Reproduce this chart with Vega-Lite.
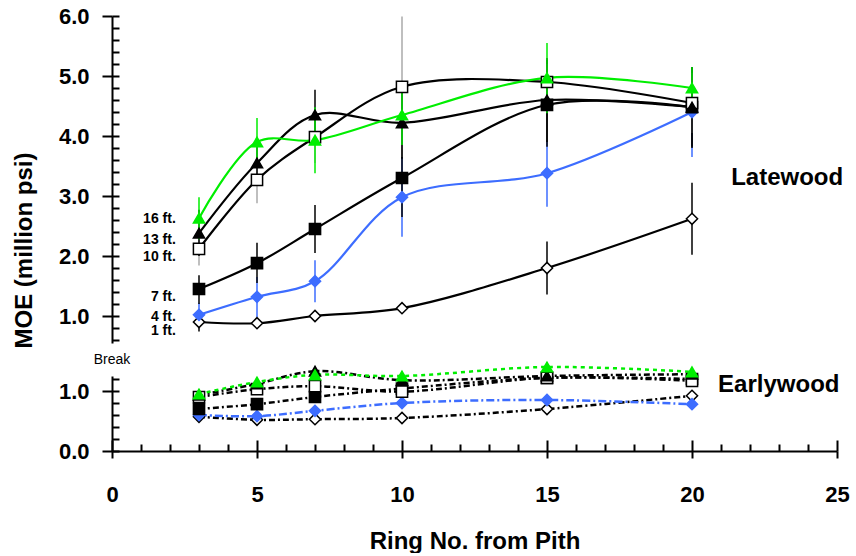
{
  "$schema": "https://vega.github.io/schema/vega-lite/v6.json",
  "padding": {"left": 12, "top": 5, "right": 2, "bottom": 0},
  "config": {
    "view": {"stroke": null},
    "font": "Liberation Sans",
    "axis": {
      "domainColor": "black", "domainWidth": 2,
      "tickColor": "black", "tickWidth": 2, "tickCount": 100,
      "labelColor": "black", "labelFontSize": 22, "labelFontWeight": "bold", "labelFont": "Liberation Sans",
      "labelOverlap": false, "labelFlush": false, "labelBound": false,
      "titleColor": "black", "titleFontSize": 24, "titleFontWeight": "bold", "titleFont": "Liberation Sans",
      "grid": true, "gridColor": "black", "gridWidth": 2, "gridOpacity": 1
    }
  },
  "datasets": {
    "late": [
      {"series": "1 ft.", "x": 3, "y": 0.90, "lo": 0.74, "hi": 1.06},
      {"series": "1 ft.", "x": 5, "y": 0.88, "lo": 0.84, "hi": 0.92},
      {"series": "1 ft.", "x": 7, "y": 1.00, "lo": 0.95, "hi": 1.05},
      {"series": "1 ft.", "x": 10, "y": 1.13, "lo": 1.05, "hi": 1.21},
      {"series": "1 ft.", "x": 15, "y": 1.80, "lo": 1.36, "hi": 2.24},
      {"series": "1 ft.", "x": 20, "y": 2.62, "lo": 2.02, "hi": 3.22},
      {"series": "4 ft.", "x": 3, "y": 1.02, "lo": 0.82, "hi": 1.22},
      {"series": "4 ft.", "x": 5, "y": 1.32, "lo": 0.98, "hi": 1.65},
      {"series": "4 ft.", "x": 7, "y": 1.58, "lo": 1.23, "hi": 1.93},
      {"series": "4 ft.", "x": 10, "y": 2.98, "lo": 2.32, "hi": 3.65},
      {"series": "4 ft.", "x": 15, "y": 3.38, "lo": 2.82, "hi": 3.93},
      {"series": "4 ft.", "x": 20, "y": 4.40, "lo": 3.65, "hi": 5.15},
      {"series": "7 ft.", "x": 3, "y": 1.45, "lo": 1.20, "hi": 1.68},
      {"series": "7 ft.", "x": 5, "y": 1.88, "lo": 1.55, "hi": 2.22},
      {"series": "7 ft.", "x": 7, "y": 2.45, "lo": 2.05, "hi": 2.85},
      {"series": "7 ft.", "x": 10, "y": 3.30, "lo": 2.65, "hi": 3.93},
      {"series": "7 ft.", "x": 15, "y": 4.52, "lo": 3.82, "hi": 5.27},
      {"series": "7 ft.", "x": 20, "y": 4.48, "lo": 3.82, "hi": 5.15},
      {"series": "10 ft.", "x": 3, "y": 2.12, "lo": 1.84, "hi": 2.40},
      {"series": "10 ft.", "x": 5, "y": 3.27, "lo": 2.88, "hi": 3.66},
      {"series": "10 ft.", "x": 7, "y": 3.98, "lo": 3.55, "hi": 4.41},
      {"series": "10 ft.", "x": 10, "y": 4.82, "lo": 3.65, "hi": 5.99},
      {"series": "10 ft.", "x": 15, "y": 4.90, "lo": 4.60, "hi": 5.20},
      {"series": "10 ft.", "x": 20, "y": 4.55, "lo": 4.05, "hi": 5.05},
      {"series": "13 ft.", "x": 3, "y": 2.38, "lo": 2.00, "hi": 2.77},
      {"series": "13 ft.", "x": 5, "y": 3.55, "lo": 3.25, "hi": 3.85},
      {"series": "13 ft.", "x": 7, "y": 4.35, "lo": 3.93, "hi": 4.77},
      {"series": "13 ft.", "x": 10, "y": 4.22, "lo": 3.62, "hi": 4.82},
      {"series": "13 ft.", "x": 15, "y": 4.60, "lo": 3.90, "hi": 5.30},
      {"series": "13 ft.", "x": 20, "y": 4.48, "lo": 3.80, "hi": 5.15},
      {"series": "16 ft.", "x": 3, "y": 2.63, "lo": 2.28, "hi": 2.98},
      {"series": "16 ft.", "x": 5, "y": 3.90, "lo": 3.52, "hi": 4.30},
      {"series": "16 ft.", "x": 7, "y": 3.93, "lo": 3.38, "hi": 4.48},
      {"series": "16 ft.", "x": 10, "y": 4.35, "lo": 3.85, "hi": 4.85},
      {"series": "16 ft.", "x": 15, "y": 4.97, "lo": 4.38, "hi": 5.55},
      {"series": "16 ft.", "x": 20, "y": 4.80, "lo": 4.45, "hi": 5.15}
    ],
    "early": [
      {"series": "1 ft.", "x": 3, "y": 0.57},
      {"series": "1 ft.", "x": 5, "y": 0.52},
      {"series": "1 ft.", "x": 7, "y": 0.53},
      {"series": "1 ft.", "x": 10, "y": 0.55},
      {"series": "1 ft.", "x": 15, "y": 0.70},
      {"series": "1 ft.", "x": 20, "y": 0.92},
      {"series": "4 ft.", "x": 3, "y": 0.60},
      {"series": "4 ft.", "x": 5, "y": 0.58},
      {"series": "4 ft.", "x": 7, "y": 0.67},
      {"series": "4 ft.", "x": 10, "y": 0.80},
      {"series": "4 ft.", "x": 15, "y": 0.85},
      {"series": "4 ft.", "x": 20, "y": 0.78},
      {"series": "7 ft.", "x": 3, "y": 0.70},
      {"series": "7 ft.", "x": 5, "y": 0.78},
      {"series": "7 ft.", "x": 7, "y": 0.90},
      {"series": "7 ft.", "x": 10, "y": 1.04},
      {"series": "7 ft.", "x": 15, "y": 1.22},
      {"series": "7 ft.", "x": 20, "y": 1.20},
      {"series": "10 ft.", "x": 3, "y": 0.90},
      {"series": "10 ft.", "x": 5, "y": 1.03},
      {"series": "10 ft.", "x": 7, "y": 1.08},
      {"series": "10 ft.", "x": 10, "y": 0.99},
      {"series": "10 ft.", "x": 15, "y": 1.22},
      {"series": "10 ft.", "x": 20, "y": 1.17},
      {"series": "13 ft.", "x": 3, "y": 0.93},
      {"series": "13 ft.", "x": 5, "y": 1.12},
      {"series": "13 ft.", "x": 7, "y": 1.33},
      {"series": "13 ft.", "x": 10, "y": 1.18},
      {"series": "13 ft.", "x": 15, "y": 1.25},
      {"series": "13 ft.", "x": 20, "y": 1.28},
      {"series": "16 ft.", "x": 3, "y": 0.95},
      {"series": "16 ft.", "x": 5, "y": 1.15},
      {"series": "16 ft.", "x": 7, "y": 1.27},
      {"series": "16 ft.", "x": 10, "y": 1.25},
      {"series": "16 ft.", "x": 15, "y": 1.40},
      {"series": "16 ft.", "x": 20, "y": 1.32}
    ]
  },
  "spacing": 33,
  "bounds": "flush",
  "vconcat": [
    {
      "width": 725,
      "height": 327,
      "layer": [
        {
          "data": {"name": "late"},
          "mark": {"type": "line", "interpolate": "catmull-rom", "strokeWidth": 2.2},
          "encoding": {
            "x": {"field": "x", "type": "quantitative", "scale": {"domain": [0, 25], "nice": false}, "axis": null},
            "y": {"field": "y", "type": "quantitative", "scale": {"domain": [0.55, 6], "nice": false, "zero": false},
              "axis": {
                "title": "MOE (million psi)",
                "values": [0.6, 0.8, 1, 1.2, 1.4, 1.6, 1.8, 2, 2.2, 2.4, 2.6, 2.8, 3, 3.2, 3.4, 3.6, 3.8, 4, 4.2, 4.4, 4.6, 4.8, 5, 5.2, 5.4, 5.6, 5.8, 6],
                "tickCount": 100,
                "labelExpr": "datum.value % 1 === 0 ? format(datum.value, '.1f') : ''",
                "tickOpacity": {"condition": {"test": "datum.value % 1 !== 0", "value": 0}, "value": 1},
                "tickSize": 10,
                "gridDash": [7, 3000],
                "labelPadding": 13,
                "titlePadding": 22,
                "titleY": 234
              }},
            "stroke": {"field": "series", "type": "nominal", "legend": null,
              "scale": {"domain": ["1 ft.", "4 ft.", "7 ft.", "10 ft.", "13 ft.", "16 ft."], "range": ["black", "#3d6dff", "black", "black", "black", "#00ee00"]}}
          }
        },
        {
          "data": {"name": "late"},
          "mark": {"type": "rule", "strokeWidth": 1.5},
          "encoding": {
            "x": {"field": "x", "type": "quantitative"},
            "y": {"field": "lo", "type": "quantitative"},
            "y2": {"field": "hi"},
            "color": {"field": "series", "type": "nominal", "legend": null,
              "scale": {"domain": ["1 ft.", "4 ft.", "7 ft.", "10 ft.", "13 ft.", "16 ft."], "range": ["black", "#3d6dff", "black", "#aaaaaa", "black", "#00ee00"]}}
          }
        },
        {
          "data": {"name": "late"},
          "mark": {"type": "point", "filled": true, "size": 125, "strokeWidth": 1.5, "opacity": 1},
          "encoding": {
            "x": {"field": "x", "type": "quantitative"},
            "y": {"field": "y", "type": "quantitative"},
            "shape": {"field": "series", "type": "nominal", "legend": null,
              "scale": {"domain": ["1 ft.", "4 ft.", "7 ft.", "10 ft.", "13 ft.", "16 ft."], "range": ["diamond", "diamond", "square", "square", "triangle-up", "triangle-up"]}},
            "fill": {"field": "series", "type": "nominal", "legend": null,
              "scale": {"domain": ["1 ft.", "4 ft.", "7 ft.", "10 ft.", "13 ft.", "16 ft."], "range": ["white", "#3d6dff", "black", "white", "black", "#00ee00"]}},
            "stroke": {"field": "series", "type": "nominal", "legend": null}
          }
        },
        {
          "data": {"values": [
            {"t": "16 ft.", "x": 2.2, "y": 2.62},
            {"t": "13 ft.", "x": 2.2, "y": 2.27},
            {"t": "10 ft.", "x": 2.2, "y": 1.98},
            {"t": "7 ft.", "x": 2.2, "y": 1.32},
            {"t": "4 ft.", "x": 2.2, "y": 0.99},
            {"t": "1 ft.", "x": 2.2, "y": 0.75}
          ]},
          "mark": {"type": "text", "align": "right", "baseline": "middle", "fontSize": 14, "fontWeight": "bold", "color": "black"},
          "encoding": {
            "x": {"field": "x", "type": "quantitative"},
            "y": {"field": "y", "type": "quantitative"},
            "text": {"field": "t"}
          }
        },
        {
          "data": {"values": [{"t": "Latewood", "x": 21.35, "y": 3.3}]},
          "mark": {"type": "text", "align": "left", "baseline": "middle", "fontSize": 24, "fontWeight": "bold", "color": "black"},
          "encoding": {
            "x": {"field": "x", "type": "quantitative"},
            "y": {"field": "y", "type": "quantitative"},
            "text": {"field": "t"}
          }
        }
      ]
    },
    {
      "width": 725,
      "height": 75,
      "layer": [
        {
          "data": {"name": "early"},
          "mark": {"type": "line", "interpolate": "catmull-rom", "strokeWidth": 2.5},
          "encoding": {
            "x": {"field": "x", "type": "quantitative", "scale": {"domain": [0, 25], "nice": false},
              "axis": {
                "title": "Ring No. from Pith",
                "values": [0, 1, 2, 3, 4, 5, 6, 7, 8, 9, 10, 11, 12, 13, 14, 15, 16, 17, 18, 19, 20, 21, 22, 23, 24, 25],
                "tickCount": 100,
                "labelExpr": "datum.value % 5 === 0 ? format(datum.value, 'd') : ''",
                "tickOpacity": {"condition": {"test": "datum.value % 5 !== 0", "value": 0}, "value": 1},
                "tickSize": 7,
                "gridDash": {"condition": {"test": "datum.value % 5 === 0", "value": [0, 64, 11, 0]}, "value": [0, 68, 7, 0]},
                "labelPadding": 26,
                "titlePadding": 24
              }},
            "y": {"field": "y", "type": "quantitative", "scale": {"domain": [0, 1.25], "nice": false},
              "axis": {
                "title": null,
                "values": [0, 0.2, 0.4, 0.6, 0.8, 1, 1.2],
                "tickCount": 100,
                "labelExpr": "datum.value % 1 === 0 ? format(datum.value, '.1f') : ''",
                "tickOpacity": {"condition": {"test": "datum.value % 1 !== 0", "value": 0}, "value": 1},
                "tickSize": 10,
                "gridDash": [7, 3000],
                "labelPadding": 13
              }},
            "stroke": {"field": "series", "type": "nominal", "legend": null,
              "scale": {"domain": ["1 ft.", "4 ft.", "7 ft.", "10 ft.", "13 ft.", "16 ft."], "range": ["black", "#3d6dff", "black", "black", "black", "#00ee00"]}},
            "strokeDash": {"field": "series", "type": "nominal", "legend": null,
              "scale": {"domain": ["1 ft.", "4 ft.", "7 ft.", "10 ft.", "13 ft.", "16 ft."], "range": [[6, 3, 2, 3], [8, 3, 2, 3], [6, 3, 2, 3], [6, 3, 2, 3], [6, 3, 2, 3], [4, 4]]}}
          }
        },
        {
          "data": {"name": "early"},
          "mark": {"type": "point", "filled": true, "size": 125, "strokeWidth": 1.5, "opacity": 1},
          "encoding": {
            "x": {"field": "x", "type": "quantitative"},
            "y": {"field": "y", "type": "quantitative"},
            "shape": {"field": "series", "type": "nominal", "legend": null,
              "scale": {"domain": ["1 ft.", "4 ft.", "7 ft.", "10 ft.", "13 ft.", "16 ft."], "range": ["diamond", "diamond", "square", "square", "triangle-up", "triangle-up"]}},
            "fill": {"field": "series", "type": "nominal", "legend": null,
              "scale": {"domain": ["1 ft.", "4 ft.", "7 ft.", "10 ft.", "13 ft.", "16 ft."], "range": ["white", "#3d6dff", "black", "white", "black", "#00ee00"]}},
            "stroke": {"field": "series", "type": "nominal", "legend": null}
          }
        },
        {
          "data": {"values": [{"t": "Earlywood", "x": 20.9, "y": 1.1}]},
          "mark": {"type": "text", "align": "left", "baseline": "middle", "fontSize": 24, "fontWeight": "bold", "color": "black"},
          "encoding": {
            "x": {"field": "x", "type": "quantitative"},
            "y": {"field": "y", "type": "quantitative"},
            "text": {"field": "t"}
          }
        },
        {
          "data": {"values": [{"t": "Break", "x": 0, "y": 1.52}]},
          "mark": {"type": "text", "align": "center", "baseline": "middle", "fontSize": 14, "color": "black"},
          "encoding": {
            "x": {"field": "x", "type": "quantitative"},
            "y": {"field": "y", "type": "quantitative"},
            "text": {"field": "t"}
          }
        }
      ]
    }
  ]
}
